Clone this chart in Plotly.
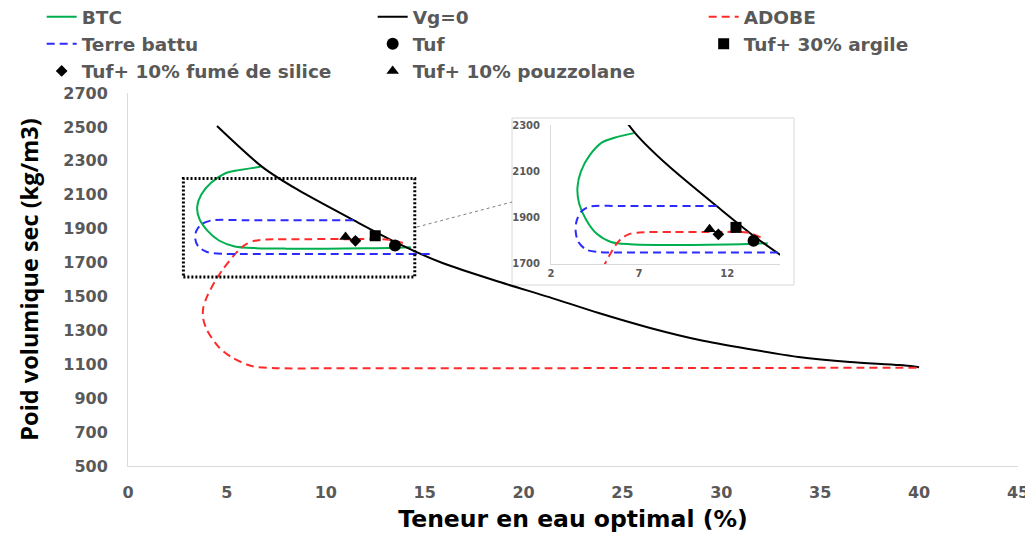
import plotly.graph_objects as go

# ---------------- data ----------------
btc_x = [6.7, 5.6, 4.9, 4.2, 3.7, 3.5, 3.6, 4.0, 4.6, 5.4, 6.5, 8.0, 10.0, 12.0, 13.2, 14.3]
btc_y = [2265, 2245, 2225, 2170, 2100, 2030, 1960, 1890, 1830, 1795, 1785, 1782, 1782, 1784, 1786, 1790]

vg_x = [4.5, 6.8, 8.6, 11.4, 13.7, 15.9, 18.8, 21.3, 23.8, 26.4, 28.9, 31.4, 33.9, 36.5, 39.0, 40.0]
vg_y = [2505, 2263, 2128, 1950, 1810, 1697, 1585, 1496, 1402, 1314, 1243, 1190, 1143, 1113, 1095, 1083]

adobe_x = [13.9, 13.2, 11.0, 9.0, 7.0, 6.4, 6.0, 5.7, 5.3, 4.8, 4.4, 4.0, 3.8, 3.8, 4.0, 4.6, 5.3, 6.3, 7.5, 10, 20, 30, 40]
adobe_y = [1815, 1835, 1838, 1838, 1836, 1828, 1810, 1785, 1735, 1660, 1590, 1500, 1430, 1370, 1300, 1200, 1137, 1088, 1077, 1076, 1077, 1078, 1080]

terre_x = [11.4, 9.0, 6.0, 4.2, 3.7, 3.45, 3.4, 3.55, 4.0, 4.8, 6.0, 10.0, 15.5]
terre_y = [1950, 1950, 1950, 1948, 1925, 1885, 1840, 1795, 1762, 1751, 1750, 1750, 1750]

tuf_x, tuf_y = [13.5], [1800]
argile_x, argile_y = [12.5], [1858]
silice_x, silice_y = [11.5], [1828]
pouz_x, pouz_y = [11.0], [1850]

x_ticks = [0, 5, 10, 15, 20, 25, 30, 35, 40, 45]
y_ticks = [500, 700, 900, 1100, 1300, 1500, 1700, 1900, 2100, 2300, 2500, 2700]
inset_x_ticks = [2, 7, 12]
inset_y_ticks = [1700, 1900, 2100, 2300]

# ---------------- style ----------------
GREEN = "#00b050"
BLUE = "#2b2bff"
RED = "#ff2b2b"
GRAY = "#595959"
AXIS = "#d9d9d9"
WIDE = "DejaVu Sans"
NARROW = "Open Sans"
DASH = "8px,5px"

fig = go.Figure()


def add_all(xa, ya, legend):
    fig.add_trace(go.Scatter(x=btc_x, y=btc_y, mode="lines", name="BTC",
                             line=dict(color=GREEN, width=2, shape="spline", smoothing=0.8),
                             xaxis=xa, yaxis=ya, showlegend=legend))
    fig.add_trace(go.Scatter(x=vg_x, y=vg_y, mode="lines", name="Vg=0",
                             line=dict(color="black", width=2, shape="spline", smoothing=0.8),
                             xaxis=xa, yaxis=ya, showlegend=legend))
    fig.add_trace(go.Scatter(x=adobe_x, y=adobe_y, mode="lines", name="ADOBE",
                             line=dict(color=RED, width=2, dash=DASH, shape="spline", smoothing=0.8),
                             xaxis=xa, yaxis=ya, showlegend=legend))
    fig.add_trace(go.Scatter(x=terre_x, y=terre_y, mode="lines", name="Terre battu",
                             line=dict(color=BLUE, width=2, dash=DASH, shape="spline", smoothing=0.8),
                             xaxis=xa, yaxis=ya, showlegend=legend))
    fig.add_trace(go.Scatter(x=tuf_x, y=tuf_y, mode="markers", name="Tuf",
                             marker=dict(symbol="circle", size=12, color="black"),
                             xaxis=xa, yaxis=ya, showlegend=legend))
    fig.add_trace(go.Scatter(x=argile_x, y=argile_y, mode="markers", name="Tuf+ 30% argile",
                             marker=dict(symbol="square", size=11, color="black"),
                             xaxis=xa, yaxis=ya, showlegend=legend))
    fig.add_trace(go.Scatter(x=silice_x, y=silice_y, mode="markers", name="Tuf+ 10% fumé de silice",
                             marker=dict(symbol="diamond", size=9, color="black"),
                             xaxis=xa, yaxis=ya, showlegend=legend))
    fig.add_trace(go.Scatter(x=pouz_x, y=pouz_y, mode="markers", name="Tuf+ 10% pouzzolane",
                             marker=dict(symbol="triangle-up", size=11, color="black"),
                             xaxis=xa, yaxis=ya, showlegend=legend))


add_all("x", "y", True)
add_all("x2", "y2", False)

# legend order (row-wise): BTC, Vg=0, ADOBE / Terre battu, Tuf, argile / silice, pouzzolane
order = {"BTC": 0, "Vg=0": 1, "ADOBE": 2, "Terre battu": 3, "Tuf": 4,
         "Tuf+ 30% argile": 5, "Tuf+ 10% fumé de silice": 6, "Tuf+ 10% pouzzolane": 7}
fig.data = tuple(sorted(fig.data, key=lambda t: (0 if t.showlegend is not False else 1, order[t.name])))

# the page body has an 8px margin, so the figure is 8px smaller and starts at (8, 8)
fig.update_layout(
    width=1025, height=525,
    margin=dict(l=120, r=15, t=85, b=67, autoexpand=False),
    paper_bgcolor="white", plot_bgcolor="white",
    font=dict(family=WIDE, color=GRAY),
    showlegend=True,
    legend=dict(orientation="h", x=-0.097, y=1.254, xanchor="left", yanchor="top",
                entrywidth=286, entrywidthmode="pixels", traceorder="normal",
                font=dict(family=WIDE, size=18.5, color=GRAY, weight="bold"),
                bgcolor="rgba(0,0,0,0)", itemsizing="trace", tracegroupgap=0),
    xaxis=dict(range=[0, 45], tickvals=x_ticks, showgrid=False, zeroline=False,
               showline=True, linecolor=AXIS, linewidth=1, ticks="",
               tickfont=dict(family=WIDE, size=16, color=GRAY, weight="bold"),
               ticklabelstandoff=12,
               title=dict(text="Teneur en eau optimal (%)", standoff=12,
                          font=dict(family=WIDE, size=23.5, color="black", weight="bold"))),
    yaxis=dict(range=[500, 2700], tickvals=y_ticks, showgrid=False, zeroline=False,
               showline=True, linecolor=AXIS, linewidth=1, ticks="",
               tickfont=dict(family=WIDE, size=16, color=GRAY, weight="bold"),
               ticklabelstandoff=16,
               title=dict(text="Poid volumique sec (kg/m3)", standoff=18,
                          font=dict(family=NARROW, size=23.5, color="black", weight="bold"))),
    xaxis2=dict(domain=[0.4753, 0.7326], anchor="y2", range=[2, 15], tickvals=inset_x_ticks,
                showgrid=False, zeroline=False, showline=True, linecolor=AXIS, ticks="",
                tickfont=dict(family=WIDE, size=10, color=GRAY, weight="bold")),
    yaxis2=dict(domain=[0.5416, 0.9142], anchor="x2", range=[1700, 2300], tickvals=inset_y_ticks,
                showgrid=False, zeroline=False, showline=True, linecolor=AXIS, ticks="",
                tickfont=dict(family=WIDE, size=10, color=GRAY, weight="bold"),
                ticklabelstandoff=8),
    shapes=[
        # inset frame
        dict(type="rect", xref="paper", yref="paper", x0=0.4315, x1=0.7483, y0=0.4853, y1=0.933,
             fillcolor="white", line=dict(color=AXIS, width=1), layer="below"),
        # zoom box in main chart
        dict(type="rect", xref="x", yref="y", x0=2.8, x1=14.5, y0=1615, y1=2195,
             line=dict(color="black", width=3, dash="2px,2px"), layer="above"),
        # connector
        dict(type="line", xref="paper", yref="paper", x0=0.3247, y0=0.6408, x1=0.4315, y1=0.7078,
             line=dict(color="#7f7f7f", width=1, dash="dot"), layer="above"),
    ],
)

fig.write_html("out.html")
